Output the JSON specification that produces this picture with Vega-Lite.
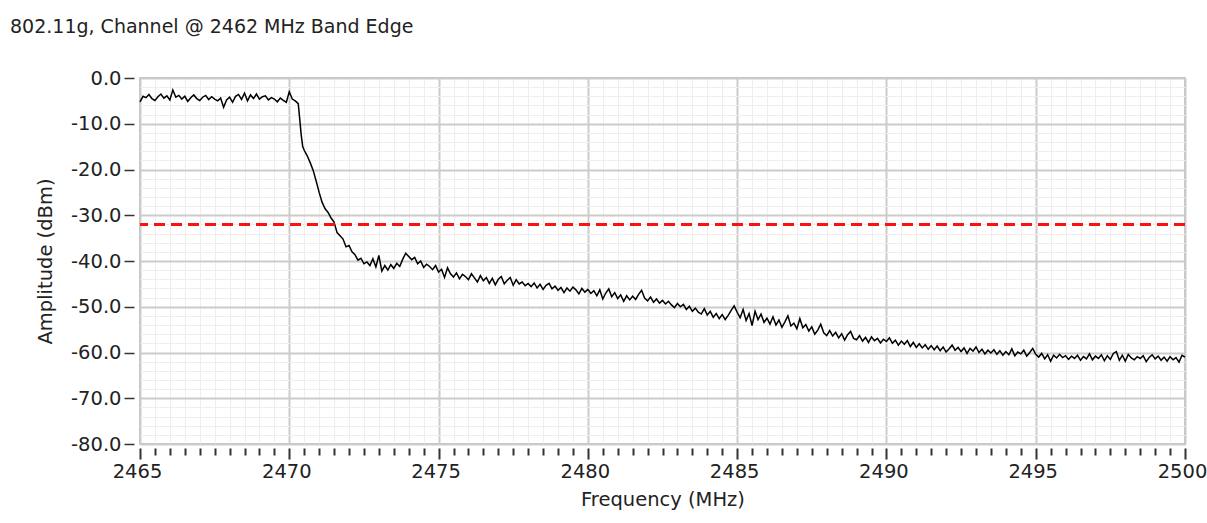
{
  "$schema": "https://vega.github.io/schema/vega-lite/v6.json",
  "width": 1045,
  "height": 366,
  "autosize": {"type": "none"},
  "padding": {"left": 140, "top": 78, "right": 22, "bottom": 79},
  "background": "white",
  "config": {
    "view": {"stroke": "#b0b0b0", "strokeWidth": 1.5},
    "font": "DejaVu Sans"
  },
  "title": {
    "text": "802.11g, Channel @ 2462 MHz Band Edge",
    "anchor": "start",
    "frame": "group",
    "dx": -130,
    "offset": 16,
    "baseline": "alphabetic",
    "font": "DejaVu Sans",
    "fontSize": 19,
    "fontWeight": "normal",
    "color": "#222222"
  },
  "encoding": {
    "y": {
      "field": "a",
      "type": "quantitative",
      "scale": {"domain": [-80, 0], "nice": false, "zero": false},
      "axis": {
        "title": "Amplitude (dBm)",
        "values": [-80,-78,-76,-74,-72,-70,-68,-66,-64,-62,-60,-58,-56,-54,-52,-50,-48,-46,-44,-42,-40,-38,-36,-34,-32,-30,-28,-26,-24,-22,-20,-18,-16,-14,-12,-10,-8,-6,-4,-2,0],
        "labelExpr": "datum.value % 10 === 0 ? (datum.value === 0 ? '0.0' : '' + datum.value + '.0') : ''",
        "labelOverlap": false,
        "labelFlush": false,
        "labelFont": "DejaVu Sans",
        "labelFontSize": 19.5,
        "labelColor": "#222222",
        "labelPadding": 3,
        "domain": false,
        "offset": 6,
        "grid": true,
        "gridColor": {"condition": {"test": "datum.value % 10 === 0", "value": "#cccccc"}, "value": "#eeeeee"},
        "gridWidth": {"condition": {"test": "datum.value % 10 === 0", "value": 2}, "value": 1},
        "tickSize": 10,
        "tickOpacity": {"condition": {"test": "datum.value % 10 === 0", "value": 1}, "value": 0},
        "tickColor": "#333333",
        "tickWidth": 1.5,
        "titleFont": "DejaVu Sans",
        "titleFontSize": 19.5,
        "titleFontWeight": "normal",
        "titleColor": "#222222",
        "titlePadding": 15
      }
    }
  },
  "layer": [
    {
      "data": {"values": [
        {"f":2465.0,"a":-5.2},{"f":2465.1,"a":-4.0},{"f":2465.2,"a":-4.3},{"f":2465.3,"a":-3.6},{"f":2465.4,"a":-4.5},
        {"f":2465.5,"a":-4.9},{"f":2465.6,"a":-4.1},{"f":2465.7,"a":-3.5},{"f":2465.8,"a":-4.4},{"f":2465.9,"a":-3.9},
        {"f":2466.0,"a":-4.8},{"f":2466.1,"a":-2.6},{"f":2466.2,"a":-4.2},{"f":2466.3,"a":-3.8},{"f":2466.4,"a":-4.6},
        {"f":2466.5,"a":-4.0},{"f":2466.6,"a":-5.1},{"f":2466.7,"a":-4.3},{"f":2466.8,"a":-3.7},{"f":2466.9,"a":-4.5},
        {"f":2467.0,"a":-4.9},{"f":2467.1,"a":-4.2},{"f":2467.2,"a":-3.8},{"f":2467.3,"a":-4.7},{"f":2467.4,"a":-4.1},
        {"f":2467.5,"a":-4.6},{"f":2467.6,"a":-5.0},{"f":2467.7,"a":-4.4},{"f":2467.8,"a":-6.4},{"f":2467.9,"a":-4.8},
        {"f":2468.0,"a":-4.2},{"f":2468.1,"a":-5.3},{"f":2468.2,"a":-4.0},{"f":2468.3,"a":-3.6},{"f":2468.4,"a":-4.7},
        {"f":2468.5,"a":-3.3},{"f":2468.6,"a":-5.0},{"f":2468.7,"a":-3.7},{"f":2468.8,"a":-4.5},{"f":2468.9,"a":-3.5},
        {"f":2469.0,"a":-4.6},{"f":2469.1,"a":-4.1},{"f":2469.2,"a":-3.9},{"f":2469.3,"a":-4.8},{"f":2469.4,"a":-4.3},
        {"f":2469.5,"a":-4.6},{"f":2469.6,"a":-5.2},{"f":2469.7,"a":-4.4},{"f":2469.8,"a":-4.9},{"f":2469.9,"a":-5.3},
        {"f":2470.0,"a":-3.0},{"f":2470.1,"a":-4.6},{"f":2470.2,"a":-5.0},{"f":2470.3,"a":-5.6},{"f":2470.35,"a":-9.0},
        {"f":2470.4,"a":-12.5},{"f":2470.45,"a":-15.0},{"f":2470.5,"a":-15.8},{"f":2470.6,"a":-17.0},{"f":2470.7,"a":-18.5},
        {"f":2470.8,"a":-20.2},{"f":2470.9,"a":-22.5},{"f":2471.0,"a":-25.0},{"f":2471.1,"a":-27.2},{"f":2471.2,"a":-28.6},
        {"f":2471.3,"a":-29.4},{"f":2471.4,"a":-30.6},{"f":2471.5,"a":-31.5},{"f":2471.6,"a":-33.8},{"f":2471.7,"a":-34.5},
        {"f":2471.8,"a":-35.2},{"f":2471.9,"a":-36.9},{"f":2472.0,"a":-36.6},{"f":2472.1,"a":-38.0},{"f":2472.2,"a":-38.6},
        {"f":2472.3,"a":-39.8},{"f":2472.4,"a":-39.4},{"f":2472.5,"a":-40.6},{"f":2472.6,"a":-40.2},{"f":2472.7,"a":-41.0},
        {"f":2472.8,"a":-39.5},{"f":2472.9,"a":-41.3},{"f":2473.0,"a":-38.8},{"f":2473.1,"a":-42.2},{"f":2473.2,"a":-41.0},
        {"f":2473.3,"a":-42.0},{"f":2473.4,"a":-40.8},{"f":2473.5,"a":-41.6},{"f":2473.6,"a":-40.5},{"f":2473.7,"a":-41.2},
        {"f":2473.8,"a":-39.6},{"f":2473.9,"a":-38.3},{"f":2474.0,"a":-39.0},{"f":2474.1,"a":-39.7},{"f":2474.2,"a":-39.2},
        {"f":2474.3,"a":-40.6},{"f":2474.4,"a":-40.0},{"f":2474.5,"a":-41.4},{"f":2474.6,"a":-40.7},{"f":2474.7,"a":-41.2},
        {"f":2474.8,"a":-41.9},{"f":2474.9,"a":-41.0},{"f":2475.0,"a":-42.4},{"f":2475.1,"a":-41.8},{"f":2475.2,"a":-43.6},
        {"f":2475.3,"a":-41.5},{"f":2475.4,"a":-42.8},{"f":2475.5,"a":-43.5},{"f":2475.6,"a":-42.6},{"f":2475.7,"a":-43.9},
        {"f":2475.8,"a":-42.9},{"f":2475.9,"a":-43.4},{"f":2476.0,"a":-44.1},{"f":2476.1,"a":-42.8},{"f":2476.2,"a":-43.7},
        {"f":2476.3,"a":-44.6},{"f":2476.4,"a":-43.2},{"f":2476.5,"a":-44.3},{"f":2476.6,"a":-43.6},{"f":2476.7,"a":-44.9},
        {"f":2476.8,"a":-43.8},{"f":2476.9,"a":-45.2},{"f":2477.0,"a":-44.0},{"f":2477.1,"a":-43.4},{"f":2477.2,"a":-45.0},
        {"f":2477.3,"a":-44.2},{"f":2477.4,"a":-43.6},{"f":2477.5,"a":-45.3},{"f":2477.6,"a":-44.1},{"f":2477.7,"a":-45.0},
        {"f":2477.8,"a":-44.6},{"f":2477.9,"a":-45.4},{"f":2478.0,"a":-44.9},{"f":2478.1,"a":-45.6},{"f":2478.2,"a":-44.8},
        {"f":2478.3,"a":-45.9},{"f":2478.4,"a":-45.1},{"f":2478.5,"a":-46.2},{"f":2478.6,"a":-45.3},{"f":2478.7,"a":-44.9},
        {"f":2478.8,"a":-46.1},{"f":2478.9,"a":-45.5},{"f":2479.0,"a":-46.4},{"f":2479.1,"a":-45.8},{"f":2479.2,"a":-46.9},
        {"f":2479.3,"a":-45.9},{"f":2479.4,"a":-46.6},{"f":2479.5,"a":-45.7},{"f":2479.6,"a":-46.3},{"f":2479.7,"a":-47.2},
        {"f":2479.8,"a":-46.0},{"f":2479.9,"a":-46.8},{"f":2480.0,"a":-46.2},{"f":2480.1,"a":-47.1},{"f":2480.2,"a":-46.5},
        {"f":2480.3,"a":-47.6},{"f":2480.4,"a":-46.3},{"f":2480.5,"a":-48.3},{"f":2480.6,"a":-47.0},{"f":2480.7,"a":-46.1},
        {"f":2480.8,"a":-47.8},{"f":2480.9,"a":-46.9},{"f":2481.0,"a":-48.2},{"f":2481.1,"a":-47.4},{"f":2481.2,"a":-48.8},
        {"f":2481.3,"a":-47.6},{"f":2481.4,"a":-48.5},{"f":2481.5,"a":-47.7},{"f":2481.6,"a":-48.4},{"f":2481.7,"a":-47.3},
        {"f":2481.8,"a":-46.4},{"f":2481.9,"a":-48.1},{"f":2482.0,"a":-48.7},{"f":2482.1,"a":-47.9},{"f":2482.2,"a":-49.0},
        {"f":2482.3,"a":-48.3},{"f":2482.4,"a":-49.2},{"f":2482.5,"a":-48.6},{"f":2482.6,"a":-49.4},{"f":2482.7,"a":-48.8},
        {"f":2482.8,"a":-49.6},{"f":2482.9,"a":-50.2},{"f":2483.0,"a":-49.3},{"f":2483.1,"a":-50.0},{"f":2483.2,"a":-49.5},
        {"f":2483.3,"a":-50.6},{"f":2483.4,"a":-49.9},{"f":2483.5,"a":-51.0},{"f":2483.6,"a":-50.3},{"f":2483.7,"a":-51.2},
        {"f":2483.8,"a":-51.6},{"f":2483.9,"a":-50.4},{"f":2484.0,"a":-51.8},{"f":2484.1,"a":-51.0},{"f":2484.2,"a":-52.3},
        {"f":2484.3,"a":-51.5},{"f":2484.4,"a":-52.6},{"f":2484.5,"a":-51.7},{"f":2484.6,"a":-52.8},{"f":2484.7,"a":-51.9},
        {"f":2484.8,"a":-50.8},{"f":2484.9,"a":-49.8},{"f":2485.0,"a":-51.2},{"f":2485.1,"a":-52.4},{"f":2485.2,"a":-50.6},
        {"f":2485.3,"a":-53.0},{"f":2485.4,"a":-51.5},{"f":2485.5,"a":-54.1},{"f":2485.6,"a":-51.0},{"f":2485.7,"a":-52.8},
        {"f":2485.8,"a":-51.6},{"f":2485.9,"a":-53.4},{"f":2486.0,"a":-52.5},{"f":2486.1,"a":-53.8},{"f":2486.2,"a":-52.2},
        {"f":2486.3,"a":-54.0},{"f":2486.4,"a":-52.9},{"f":2486.5,"a":-54.5},{"f":2486.6,"a":-53.3},{"f":2486.7,"a":-52.0},
        {"f":2486.8,"a":-54.2},{"f":2486.9,"a":-53.6},{"f":2487.0,"a":-54.8},{"f":2487.1,"a":-52.6},{"f":2487.2,"a":-54.6},
        {"f":2487.3,"a":-53.9},{"f":2487.4,"a":-55.3},{"f":2487.5,"a":-54.4},{"f":2487.6,"a":-56.0},{"f":2487.7,"a":-55.1},
        {"f":2487.8,"a":-53.8},{"f":2487.9,"a":-55.7},{"f":2488.0,"a":-56.3},{"f":2488.1,"a":-55.2},{"f":2488.2,"a":-56.4},
        {"f":2488.3,"a":-55.6},{"f":2488.4,"a":-56.8},{"f":2488.5,"a":-55.9},{"f":2488.6,"a":-57.3},{"f":2488.7,"a":-56.1},
        {"f":2488.8,"a":-55.4},{"f":2488.9,"a":-56.9},{"f":2489.0,"a":-57.2},{"f":2489.1,"a":-56.3},{"f":2489.2,"a":-57.5},
        {"f":2489.3,"a":-56.7},{"f":2489.4,"a":-57.8},{"f":2489.5,"a":-56.6},{"f":2489.6,"a":-57.4},{"f":2489.7,"a":-56.9},
        {"f":2489.8,"a":-57.9},{"f":2489.9,"a":-57.1},{"f":2490.0,"a":-57.6},{"f":2490.1,"a":-56.8},{"f":2490.2,"a":-58.0},
        {"f":2490.3,"a":-57.3},{"f":2490.4,"a":-58.4},{"f":2490.5,"a":-57.5},{"f":2490.6,"a":-58.2},{"f":2490.7,"a":-57.4},
        {"f":2490.8,"a":-58.7},{"f":2490.9,"a":-57.8},{"f":2491.0,"a":-58.9},{"f":2491.1,"a":-58.1},{"f":2491.2,"a":-59.0},
        {"f":2491.3,"a":-58.3},{"f":2491.4,"a":-59.3},{"f":2491.5,"a":-58.5},{"f":2491.6,"a":-59.4},{"f":2491.7,"a":-58.6},
        {"f":2491.8,"a":-59.6},{"f":2491.9,"a":-58.8},{"f":2492.0,"a":-59.9},{"f":2492.1,"a":-59.2},{"f":2492.2,"a":-58.4},
        {"f":2492.3,"a":-59.5},{"f":2492.4,"a":-58.9},{"f":2492.5,"a":-59.8},{"f":2492.6,"a":-59.0},{"f":2492.7,"a":-60.2},
        {"f":2492.8,"a":-59.1},{"f":2492.9,"a":-59.7},{"f":2493.0,"a":-58.8},{"f":2493.1,"a":-60.0},{"f":2493.2,"a":-59.3},
        {"f":2493.3,"a":-60.3},{"f":2493.4,"a":-59.5},{"f":2493.5,"a":-60.1},{"f":2493.6,"a":-59.4},{"f":2493.7,"a":-60.4},
        {"f":2493.8,"a":-59.6},{"f":2493.9,"a":-60.6},{"f":2494.0,"a":-59.8},{"f":2494.1,"a":-60.5},{"f":2494.2,"a":-59.2},
        {"f":2494.3,"a":-60.7},{"f":2494.4,"a":-59.9},{"f":2494.5,"a":-60.3},{"f":2494.6,"a":-59.5},{"f":2494.7,"a":-60.8},
        {"f":2494.8,"a":-60.0},{"f":2494.9,"a":-59.1},{"f":2495.0,"a":-60.4},{"f":2495.1,"a":-61.0},{"f":2495.2,"a":-60.2},
        {"f":2495.3,"a":-61.4},{"f":2495.4,"a":-60.5},{"f":2495.5,"a":-61.9},{"f":2495.6,"a":-60.6},{"f":2495.7,"a":-61.2},
        {"f":2495.8,"a":-60.4},{"f":2495.9,"a":-61.1},{"f":2496.0,"a":-60.7},{"f":2496.1,"a":-61.5},{"f":2496.2,"a":-60.8},
        {"f":2496.3,"a":-61.3},{"f":2496.4,"a":-60.6},{"f":2496.5,"a":-61.7},{"f":2496.6,"a":-60.9},{"f":2496.7,"a":-61.4},
        {"f":2496.8,"a":-60.3},{"f":2496.9,"a":-61.6},{"f":2497.0,"a":-60.8},{"f":2497.1,"a":-61.3},{"f":2497.2,"a":-60.5},
        {"f":2497.3,"a":-61.8},{"f":2497.4,"a":-60.7},{"f":2497.5,"a":-61.5},{"f":2497.6,"a":-60.2},{"f":2497.7,"a":-59.8},
        {"f":2497.8,"a":-61.7},{"f":2497.9,"a":-60.6},{"f":2498.0,"a":-61.9},{"f":2498.1,"a":-60.4},{"f":2498.2,"a":-61.2},
        {"f":2498.3,"a":-61.6},{"f":2498.4,"a":-60.9},{"f":2498.5,"a":-61.3},{"f":2498.6,"a":-60.7},{"f":2498.7,"a":-62.0},
        {"f":2498.8,"a":-61.1},{"f":2498.9,"a":-60.5},{"f":2499.0,"a":-61.4},{"f":2499.1,"a":-60.8},{"f":2499.2,"a":-61.7},
        {"f":2499.3,"a":-61.0},{"f":2499.4,"a":-61.9},{"f":2499.5,"a":-60.9},{"f":2499.6,"a":-61.6},{"f":2499.7,"a":-61.1},
        {"f":2499.8,"a":-62.1},{"f":2499.9,"a":-60.6},{"f":2500.0,"a":-61.0}
      ]},
      "mark": {"type": "line", "color": "#000000", "strokeWidth": 1.5},
      "encoding": {
        "x": {
          "field": "f",
          "type": "quantitative",
          "scale": {"domain": [2465, 2500], "nice": false, "zero": false},
          "axis": {
            "title": "Frequency (MHz)",
            "values": [2465,2465.5,2466,2466.5,2467,2467.5,2468,2468.5,2469,2469.5,2470,2470.5,2471,2471.5,2472,2472.5,2473,2473.5,2474,2474.5,2475,2475.5,2476,2476.5,2477,2477.5,2478,2478.5,2479,2479.5,2480,2480.5,2481,2481.5,2482,2482.5,2483,2483.5,2484,2484.5,2485,2485.5,2486,2486.5,2487,2487.5,2488,2488.5,2489,2489.5,2490,2490.5,2491,2491.5,2492,2492.5,2493,2493.5,2494,2494.5,2495,2495.5,2496,2496.5,2497,2497.5,2498,2498.5,2499,2499.5,2500],
            "labelExpr": "datum.value % 5 === 0 ? '' + datum.value : ''",
            "labelOverlap": false,
            "labelFlush": false,
            "labelOffset": -3,
            "labelFont": "DejaVu Sans",
            "labelFontSize": 19.5,
            "labelColor": "#222222",
            "labelPadding": 3,
            "domain": false,
            "offset": 4,
            "grid": true,
            "gridColor": {"condition": {"test": "datum.value % 5 === 0", "value": "#cccccc"}, "value": "#eeeeee"},
            "gridWidth": {"condition": {"test": "datum.value % 5 === 0", "value": 2}, "value": 1},
            "tickSize": {"condition": {"test": "datum.value % 5 === 0", "value": 11}, "value": 7},
            "tickColor": "#333333",
            "tickWidth": 2,
            "titleFont": "DejaVu Sans",
            "titleFontSize": 19.5,
            "titleFontWeight": "normal",
            "titleColor": "#222222",
            "titlePadding": 10
          }
        }
      }
    },
    {
      "data": {"values": [{"a": -32}]},
      "mark": {"type": "rule", "color": "#ff1010", "strokeWidth": 3, "strokeDash": [11, 6]},
      "encoding": {}
    }
  ]
}
